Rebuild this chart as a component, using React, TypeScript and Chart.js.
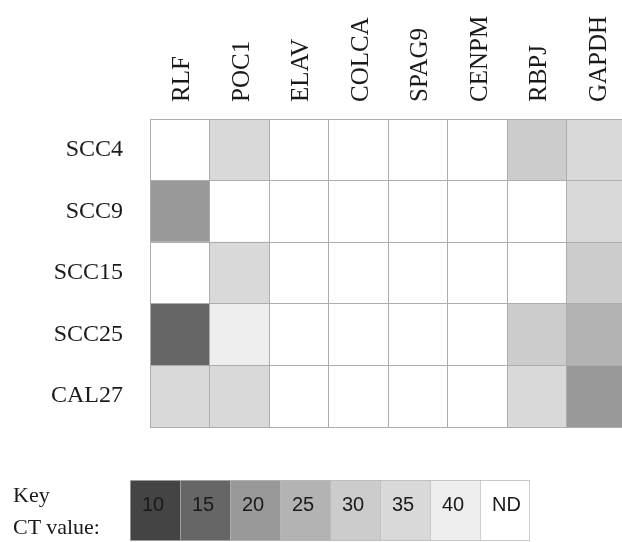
import React, { useEffect, useRef } from 'react';
import { Chart, registerables } from 'chart.js';

Chart.register(...registerables);

// ---- data ----
const genes = ['RLF', 'POC1', 'ELAV', 'COLCA', 'SPAG9', 'CENPM', 'RBPJ', 'GAPDH'];
const cellLines = ['SCC4', 'SCC9', 'SCC15', 'SCC25', 'CAL27'];

// CT values per cell line, in gene order (null = ND, not detected)
const ctSCC4: (number | null)[] = [null, 35, null, null, null, null, 30, 35];
const ctSCC9: (number | null)[] = [20, null, null, null, null, null, null, 35];
const ctSCC15: (number | null)[] = [null, 35, null, null, null, null, null, 30];
const ctSCC25: (number | null)[] = [15, 40, null, null, null, null, 30, 25];
const ctCAL27: (number | null)[] = [35, 35, null, null, null, null, 35, 20];

// key
const keyValues: (number | null)[] = [10, 15, 20, 25, 30, 35, 40, null];
const keyLabels = ['10', '15', '20', '25', '30', '35', '40', 'ND'];
const greyShades = ['#444444', '#666666', '#999999', '#b3b3b3', '#cccccc', '#d9d9d9', '#eeeeee'];
const ndColor = '#ffffff';

function shade(ct: number | null): string {
  if (ct == null) return ndColor;
  const i = keyValues.indexOf(ct);
  return i >= 0 && i < greyShades.length ? greyShades[i] : ndColor;
}

const SERIF = '"Liberation Serif", "DejaVu Serif", serif';
const NARROW = '"Liberation Sans Narrow", "Liberation Sans", Arial, sans-serif';

export default function App() {
  const mainRef = useRef<HTMLCanvasElement>(null);
  const keyRef = useRef<HTMLCanvasElement>(null);

  useEffect(() => {
    const rows = [ctSCC4, ctSCC9, ctSCC15, ctSCC25, ctCAL27];
    const gridColor = '#adadad';

    const main = new Chart(mainRef.current!, {
      type: 'bar',
      data: {
        labels: cellLines,
        datasets: genes.map((g, gi) => ({
          label: g,
          data: rows.map(() => 1),
          backgroundColor: rows.map((r) => shade(r[gi])),
          borderWidth: 0,
          categoryPercentage: 1,
          barPercentage: 1,
          xAxisID: 'x',
          yAxisID: 'y',
        })),
      },
      options: {
        indexAxis: 'y',
        animation: false,
        responsive: false,
        maintainAspectRatio: false,
        layout: { padding: { left: 0, right: 14, top: 0, bottom: 13 } },
        plugins: { legend: { display: false }, tooltip: { enabled: false } },
        scales: {
          x: { type: 'linear', stacked: true, min: 0, max: genes.length, display: false },
          y: {
            type: 'category',
            stacked: true,
            position: 'left',
            offset: true,
            grid: { display: true, offset: true, color: gridColor, drawTicks: false, lineWidth: 1, z: 1 },
            border: { display: false },
            ticks: { padding: 27, color: '#1a1a1a', font: { family: SERIF, size: 24 } },
            afterFit: (s: any) => {
              s.width = 150;
              s.paddingTop = 0;
              s.paddingBottom = 0;
            },
          },
          x2: {
            type: 'category',
            labels: genes,
            position: 'top',
            offset: true,
            grid: { display: true, offset: true, color: gridColor, drawTicks: false, lineWidth: 1, z: 1 },
            border: { display: false },
            ticks: {
              autoSkip: false,
              minRotation: 90,
              maxRotation: 90,
              padding: 17,
              labelOffset: 33,
              color: '#1a1a1a',
              font: { family: SERIF, size: 25 },
            },
            afterFit: (s: any) => {
              s.height = 119;
              s.paddingLeft = 0;
              s.paddingRight = 0;
            },
          },
        } as any,
      },
    });

    const keyTextPlugin = {
      id: 'keyText',
      afterDatasetsDraw(chart: any) {
        const ctx = chart.ctx;
        ctx.save();
        ctx.fillStyle = '#1a1a1a';
        ctx.font = `20px ${NARROW}`;
        ctx.textBaseline = 'middle';
        ctx.textAlign = 'left';
        chart.data.datasets.forEach((ds: any, i: number) => {
          const el = chart.getDatasetMeta(i).data[0];
          if (!el) return;
          const { x, base, y } = el.getProps(['x', 'base', 'y'], true);
          const left = Math.min(x, base);
          ctx.fillText(keyLabels[i], left + 12, y - 5);
        });
        ctx.restore();
      },
    };

    const key = new Chart(keyRef.current!, {
      type: 'bar',
      data: {
        labels: ['CT value'],
        datasets: keyValues.map((v, i) => ({
          label: keyLabels[i],
          data: [1],
          backgroundColor: shade(v),
          borderColor: '#b8b8b8',
          borderWidth: { left: 1, top: 1, bottom: 1, right: i === keyValues.length - 1 ? 1 : 0 },
          borderSkipped: false,
          categoryPercentage: 1,
          barPercentage: 1,
        })),
      },
      options: {
        indexAxis: 'y',
        animation: false,
        responsive: false,
        maintainAspectRatio: false,
        layout: { padding: { left: 130, right: 92, top: 40, bottom: 1 } },
        plugins: { legend: { display: false }, tooltip: { enabled: false } },
        scales: {
          x: { type: 'linear', stacked: true, min: 0, max: keyValues.length, display: false },
          y: { type: 'category', stacked: true, display: false },
        },
      } as any,
      plugins: [keyTextPlugin],
    });

    return () => {
      main.destroy();
      key.destroy();
    };
  }, []);

  return (
    <div
      style={{
        position: 'fixed',
        left: 0,
        top: 0,
        width: 622,
        height: 542,
        overflow: 'hidden',
        background: '#ffffff',
      }}
    >
      <canvas ref={mainRef} width={640} height={440} style={{ position: 'absolute', left: 0, top: 0 }} />
      <canvas ref={keyRef} width={622} height={102} style={{ position: 'absolute', left: 0, top: 440 }} />
      <div
        style={{
          position: 'absolute',
          left: 13,
          top: 479,
          fontFamily: SERIF,
          fontSize: 22,
          lineHeight: '32px',
          color: '#1a1a1a',
        }}
      >
        <div>Key</div>
        <div>CT value:</div>
      </div>
    </div>
  );
}
